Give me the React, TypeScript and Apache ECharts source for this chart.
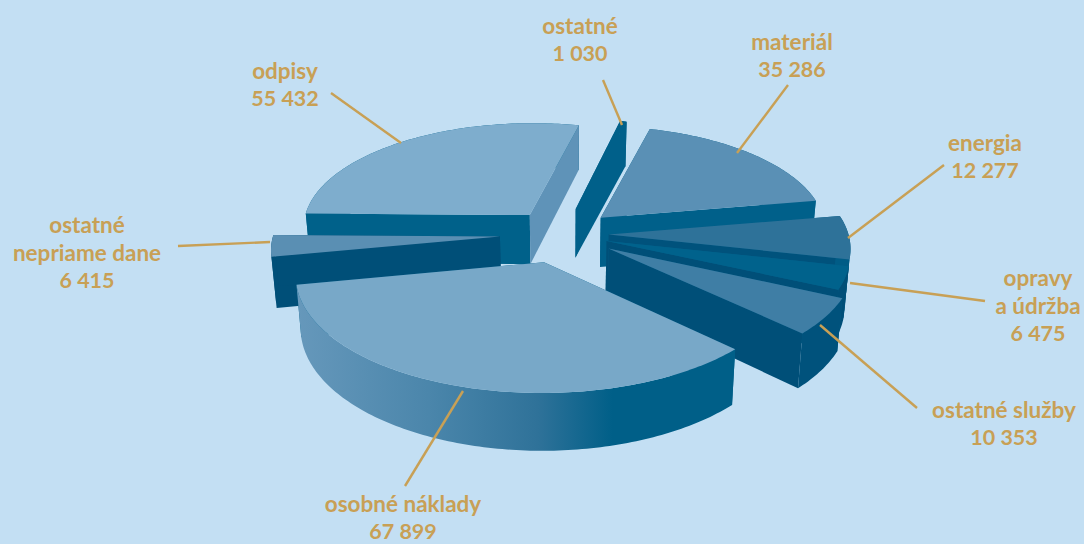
import React, { useEffect, useRef } from "react";
import * as echarts from "echarts";

// ---- data (clockwise from "materiál")
const categories = ["materiál", "energia", "opravy\na údržba", "ostatné služby", "osobné náklady", "ostatné\nnepriame dane", "odpisy", "ostatné"];
const values = [35286, 12277, 6475, 10353, 67899, 6415, 55432, 1030];

// ---- styling per slice
const explode = [0.24, 0.21, 0.21, 0.25, 0.28, 0.28, 0.24, 0.26];
const radius = [1.02, 1.08, 1.08, 1.08, 1.08, 1.02, 1.03, 1.02];
const topColors = ["#5a90b5", "#2e7299", "#00628c", "#3f7ea5", "#78a8c8", "#5a8fb3", "#7eadcd", "#00608a"];
const endWallColors = ["#00608a", "#00527c", "#004f78", "#004f78", "#00608a", "#004f78", "#5f93b8", "#00608a"];
const startWallColors = ["#00608a", "#00608a", "#00608a", "#00608a", "#00608a", "#004f78", "#00618a", "#00608a"];
const arcColors = ["#00608a", "#005c86", "#004f78", "#00527c", "", "#004f78", "#00608a", "#00608a"];
const drawOrder = [6, 7, 0, 1, 2, 3, 5, 4];

// ---- labels
const labelPos = [[792, 41], [985, 142], [1038, 277], [1004, 409], [403, 503], [87, 224], [285, 70], [580, 25]];
const LINE_STEP = 28;
const leaderLines = [
  [788, 85, 737, 153], [944, 165, 848, 238], [985, 301, 850, 283], [917, 408, 820, 325],
  [405, 486, 463, 391], [178, 246, 270, 242], [331, 93, 401, 143], [603, 80, 622, 125],
];

const START_ANGLE = 15;
const CX = 562, CY = 234, A = 222, B = 102, K = 0.1, D = 50, ZX = 0.018;
const GOLD = "#c8a055";
const total = values.reduce((a, b) => a + b, 0);
const rad = (d: number) => (d * Math.PI) / 180;
const fmt = (v: number) => String(v).replace(/\B(?=(\d{3})+$)/g, " ");

function proj(X: number, Y: number, Z: number) {
  const f = 1 / (1 - K * Y);
  return [CX + A * X * f * (1 - ZX * Z), CY + B * Y * f + D * f * Z];
}

function sliceShapes(i: number) {
  let acc = 0;
  for (let j = 0; j < i; j++) acc += values[j];
  const t0 = START_ANGLE + (acc / total) * 360;
  const t1 = t0 + (values[i] / total) * 360;
  const m = rad((t0 + t1) / 2);
  const ox = explode[i] * Math.sin(m);
  const oy = -explode[i] * Math.cos(m);
  const r = radius[i];
  const pt = (t: number, rr: number, z: number) =>
    proj(ox + rr * Math.sin(rad(t)), oy - rr * Math.cos(rad(t)), z);
  const n = Math.max(4, Math.ceil(t1 - t0));
  const arcTop: number[][] = [];
  const arcBot: number[][] = [];
  for (let s = 0; s <= n; s++) {
    const t = t0 + ((t1 - t0) * s) / n;
    arcTop.push(pt(t, r, 0));
    arcBot.push(pt(t, r, 1));
  }
  const a0 = pt(t0, 0, 0), a1 = pt(t0, 0, 1);
  const fill = (poly: number[][], c: any) => ({ type: "polygon", shape: { points: poly }, style: { fill: c } });
  const arcFill: any = arcColors[i] || new echarts.graphic.LinearGradient(0, 0, 1, 0, [
    { offset: 0, color: "#6698bb" },
    { offset: 0.3, color: "#4b86ab" },
    { offset: 0.55, color: "#2f7299" },
    { offset: 0.72, color: "#005f88" },
    { offset: 1, color: "#005f88" },
  ]);
  const arc = fill([...arcTop, ...arcBot.slice().reverse()], arcFill);
  const walls = [
    fill([a0, arcTop[0], arcBot[0], a1], startWallColors[i]),
    fill([a0, arcTop[n], arcBot[n], a1], endWallColors[i]),
  ];
  const top = fill([a0, ...arcTop], topColors[i]);
  // the rim goes in front of the walls on the half of the pie nearest the viewer
  return oy > 0 ? [...walls, arc, top] : [arc, ...walls, top];
}

export default function App() {
  const ref = useRef<HTMLDivElement>(null);
  useEffect(() => {
    document.body.style.margin = "0";
    const chart = echarts.init(ref.current!, undefined, { renderer: "svg" });
    const labelTexts = categories.flatMap((c, i) => {
      const names = c.split("\n");
      return [...names, fmt(values[i])].map((line, k) => ({
        type: "text", z: 11, x: labelPos[i][0], y: labelPos[i][1] + k * LINE_STEP,
        style: {
          text: line, fill: GOLD, font: `bold ${k < names.length ? 22.5 : 21.5}px Lato`, lineHeight: 20,
          align: "center", verticalAlign: "middle",
        },
      }));
    });
    chart.setOption({
      animation: false,
      backgroundColor: "#c3dff3",
      series: [{
        type: "custom",
        coordinateSystem: "none",
        silent: true,
        data: drawOrder.map((i) => ({ value: [i, values[i]], name: categories[i] })),
        renderItem: (_p: any, api: any) => ({ type: "group", children: sliceShapes(api.value(0)) }),
      }],
      graphic: [
        ...leaderLines.map((l) => ({
          type: "line", z: 10,
          shape: { x1: l[0], y1: l[1], x2: l[2], y2: l[3] },
          style: { stroke: GOLD, lineWidth: 2.4 },
        })),
        ...labelTexts,
      ],
    });
    return () => chart.dispose();
  }, []);
  return <div ref={ref} style={{ width: 1084, height: 544 }} />;
}
